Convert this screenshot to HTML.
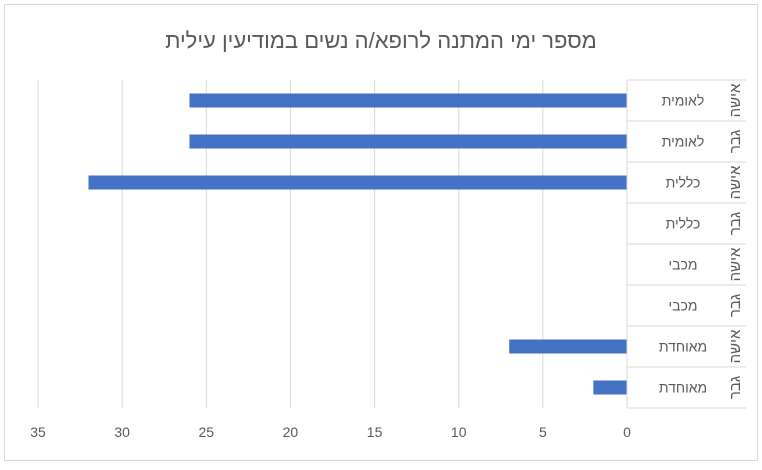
<!DOCTYPE html>
<html><head><meta charset="utf-8"><style>
body{margin:0;background:#fff}
svg text{font-family:"Liberation Sans","Noto Sans CJK JP",sans-serif}
</style></head><body>
<svg id="c" width="762" height="465" xmlns="http://www.w3.org/2000/svg">
<rect x="4.5" y="4.5" width="753" height="456" fill="#fff" stroke="#d9d9d9"/>
<text x="381" y="48" text-anchor="middle" font-size="22" fill="#595959" direction="rtl">מספר ימי המתנה לרופא/ה נשים במודיעין עילית</text>
<g id="grid"></g><g id="bars"></g><g id="labels"></g><g id="ticks"></g>
</svg>
<script>
const categories=["לאומית","לאומית","כללית","כללית","מכבי","מכבי","מאוחדת","מאוחדת"];
const genders=["אישה","גבר","אישה","גבר","אישה","גבר","אישה","גבר"];
const values=[26,26,32,0,0,0,7,2];
const ticks=[0,5,10,15,20,25,30,35];
const NS="http://www.w3.org/2000/svg";
const x0=627,pxPer=(627-38)/35,yTop=80,rowH=41;
const xs=v=>x0-v*pxPer;
const ys=i=>yTop+i*rowH;
function mk(t,a,p){const e=document.createElementNS(NS,t);for(const k in a)e.setAttribute(k,a[k]);p.appendChild(e);return e;}
const G=document.getElementById('grid'),B=document.getElementById('bars'),L=document.getElementById('labels'),T=document.getElementById('ticks');
ticks.forEach(t=>{
 if(t>0){const l=mk('line',{x1:xs(t),x2:xs(t),y1:yTop,y2:ys(categories.length),stroke:'#d9d9d9'},G);
 
 }
 const tx=mk('text',{x:xs(t),y:437,'text-anchor':'middle','font-size':14,fill:'#595959'},T);tx.textContent=t;
 
 
});
values.forEach((v,i)=>{
 const r=mk('rect',{x:xs(v),y:ys(i)+rowH/2-7,width:x0-xs(v),height:14,fill:'#4472c4'},B);
 
 
});
const ax=mk('line',{x1:627,x2:627,y1:yTop,y2:ys(8),stroke:'#d9d9d9'},L);


for(let i=0;i<=8;i++){const l=mk('line',{x1:627,x2:746,y1:ys(i),y2:ys(i),stroke:'#d9d9d9'},L);
 
 }
categories.forEach((c,i)=>{
 const t=mk('text',{x:683,y:ys(i)+rowH/2+5,'text-anchor':'middle','font-size':14,fill:'#595959',direction:'rtl'},L);t.textContent=c;
 
 
 const cx=736,cy=ys(i)+rowH/2;
 const g=mk('text',{x:cx,y:cy,'text-anchor':'middle','font-size':15,fill:'#595959',transform:`rotate(-90 ${cx} ${cy})`,direction:'rtl','dominant-baseline':'middle'},L);g.textContent=genders[i];
 
 
});
</script>
</body></html>
